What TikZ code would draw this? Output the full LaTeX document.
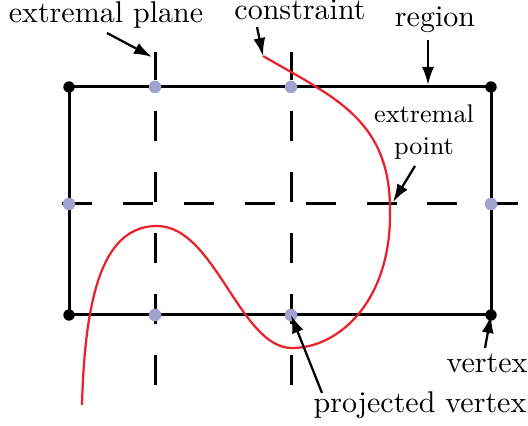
\documentclass[tikz,border=0pt]{standalone}
\usepackage{tikz}
\usetikzlibrary{arrows.meta}
\definecolor{curvered}{HTML}{E8232B}
\definecolor{lavender}{HTML}{A2A2D0}

\begin{document}
\begin{tikzpicture}[
  x=0.3333pt, y=-0.3333pt,
  border/.style={line width=1pt, draw=black},
  plane/.style={line width=1pt, dash pattern=on 10pt off 10.3pt},
  constraint/.style={line width=0.75pt, draw=curvered},
  corner/.style={circle, fill=black, inner sep=0pt, minimum size=3.8pt},
  proj/.style={circle, fill=lavender, inner sep=0pt, minimum size=4.2pt},
  lbl/.style={inner sep=0pt, anchor=base},
  arrow/.style={-{Latex[length=6pt,width=4pt]}, line width=0.75pt}
]
\useasboundingbox (0,0) rectangle (528,426);
% region corners and projected points
\coordinate (v1) at (69,87);
\coordinate (v2) at (491,87);
\coordinate (v3) at (491,315);
\coordinate (v4) at (69,315);
\coordinate (p1) at (155,87);
\coordinate (p2) at (291,87);
\coordinate (p3) at (69,204);
\coordinate (p4) at (491,204);
\coordinate (p5) at (155,315);
\coordinate (p6) at (291,315);

% extremal planes
\draw[plane] (155,385) coordinate (e1b) -- (155,52) coordinate (e1t);
\draw[plane] (291,385) coordinate (e2b) -- (291,52) coordinate (e2t);
\draw[plane] (62,204) coordinate (e3l) -- (528,204) coordinate (e3r);

% region
\draw[border] (v1) -- (v2) -- (v3) -- (v4) -- cycle;

% constraint
\draw[constraint] (263,56) coordinate (c0)
  .. controls (335,98) and (392,120) .. (390,215) coordinate (xp)
  .. controls (390,300) and (340,348) .. (292,348)
  .. controls (240,348) and (215,226) .. (157,226)
  .. controls (105,226) and (85,290) .. (82,405);

\foreach \c in {v1,v2,v3,v4}
  \node[corner] at (\c) {};
\foreach \c in {p1,p2,p3,p4,p5,p6}
  \node[proj] at (\c) {};

% labels
\node[lbl] (plane) at (106,23) {extremal plane};
\node[lbl] (cons) at (300,20) {constraint};
\node[lbl] (reg) at (435,27) {region};
\node[lbl, font=\fontsize{8.5}{10.7}\selectfont, align=center] (ext) at (424,155) {extremal\\point};
\node[lbl] (vert) at (487,372) {vertex};
\node[lbl] (pvert) at (420,412) {projected vertex};

\coordinate (a1) at (107,33);
\coordinate (a2) at (257,27);
\coordinate (a3) at (428,40);
\coordinate (a4) at (415,166);
\coordinate (a5) at (485,348);
\coordinate (a6) at (322,393);
\draw[arrow] (a1) -- (152,57);
\draw[arrow] (a2) -- (c0);
\draw[arrow] (a3) -- (428,85);
\draw[arrow] (a4) -- (393,202);
\draw[arrow] (a5) -- (v3);
\draw[arrow] (a6) -- (p6);
\end{tikzpicture}
\end{document}
